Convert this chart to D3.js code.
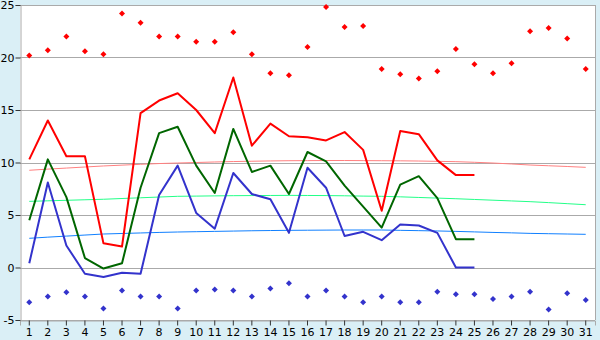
<!DOCTYPE html>
<html>
<head>
<meta charset="utf-8">
<script src="https://cdn.jsdelivr.net/npm/d3@7"></script>
<style>
  body { margin: 0; background: #daeff6; }
  text { font-family: "DejaVu Sans", Verdana, sans-serif; font-size: 11px; fill: #000; }
</style>
</head>
<body>
<div id="chart"></div>
<script>
// days of month
var days = d3.range(1, 32);
var yTicks = [-5, 0, 5, 10, 15, 20, 25];

// daily max / mean / min (days 1..25)
var maxTemp  = [10.3, 14.0, 10.6, 10.6, 2.3, 2.0, 14.7, 15.9, 16.6, 15.0, 12.8, 18.1, 11.6, 13.7, 12.5, 12.4, 12.1, 12.9, 11.2, 5.4, 13.0, 12.7, 10.2, 8.8, 8.8];
var meanTemp = [4.5, 10.3, 6.7, 0.9, -0.1, 0.4, 7.6, 12.8, 13.4, 9.7, 7.1, 13.2, 9.1, 9.7, 7.0, 11.0, 10.1, 7.8, 5.8, 3.8, 7.9, 8.7, 6.6, 2.7, 2.7];
var minTemp  = [0.4, 8.1, 2.1, -0.6, -0.9, -0.5, -0.6, 6.9, 9.7, 5.2, 3.7, 9.0, 7.0, 6.5, 3.3, 9.5, 7.6, 3.0, 3.4, 2.6, 4.1, 4.0, 3.3, 0.0, 0.0];

// record highs / lows (days 1..31)
var recHigh = [20.2, 20.7, 22.0, 20.6, 20.3, 24.2, 23.3, 22.0, 22.0, 21.5, 21.5, 22.4, 20.3, 18.5, 18.3, 21.0, 24.8, 22.9, 23.0, 18.9, 18.4, 18.0, 18.7, 20.8, 19.35, 18.5, 19.45, 22.5, 22.8, 21.8, 18.9];
var recLow  = [-3.3, -2.75, -2.35, -2.75, -3.9, -2.2, -2.75, -2.75, -3.9, -2.2, -2.1, -2.2, -2.75, -2.0, -1.5, -2.75, -2.2, -2.75, -3.3, -2.75, -3.3, -3.3, -2.3, -2.55, -2.55, -3.0, -2.75, -2.3, -4.0, -2.45, -3.1];

// long-term averages (days 1..31)
var avgMax  = [9.26, 9.37, 9.47, 9.57, 9.67, 9.75, 9.83, 9.90, 9.95, 10.0, 10.05, 10.09, 10.12, 10.15, 10.17, 10.18, 10.19, 10.19, 10.18, 10.17, 10.16, 10.14, 10.11, 10.08, 10.02, 9.95, 9.86, 9.76, 9.69, 9.62, 9.54];
var avgMean = [6.30, 6.35, 6.40, 6.45, 6.50, 6.57, 6.64, 6.71, 6.78, 6.80, 6.82, 6.84, 6.85, 6.86, 6.87, 6.86, 6.85, 6.83, 6.80, 6.78, 6.73, 6.67, 6.61, 6.55, 6.48, 6.41, 6.34, 6.27, 6.18, 6.08, 5.98];
var avgMin  = [2.78, 2.89, 2.99, 3.09, 3.19, 3.24, 3.29, 3.34, 3.38, 3.41, 3.44, 3.47, 3.50, 3.52, 3.54, 3.55, 3.56, 3.57, 3.57, 3.57, 3.54, 3.51, 3.48, 3.44, 3.39, 3.34, 3.30, 3.25, 3.22, 3.19, 3.16];

var width = 600, height = 340;
var margin = {top: 5, right: 5, bottom: 20, left: 20};

var svg = d3.select("#chart").append("svg")
  .attr("width", width)
  .attr("height", height);

var x = d3.scaleBand()
  .domain(days)
  .range([margin.left, width - margin.right])
  .padding(0);

var y = d3.scaleLinear()
  .domain([-5, 25])
  .range([height - margin.bottom, margin.top]);

function cx(d) { return x(d) + x.bandwidth() / 2; }

// plot background
svg.append("rect")
  .attr("x", margin.left)
  .attr("y", margin.top)
  .attr("width", width - margin.left - margin.right)
  .attr("height", height - margin.top - margin.bottom)
  .attr("fill", "#fff");

// gridlines
svg.append("g")
  .selectAll("line")
  .data(yTicks)
  .enter().append("line")
  .attr("x1", margin.left)
  .attr("x2", width - margin.right)
  .attr("y1", function(d){ return Math.round(y(d)) + 0.5; })
  .attr("y2", function(d){ return Math.round(y(d)) + 0.5; })
  .attr("stroke", "#aaa");

// right border
svg.append("line")
  .attr("x1", width - margin.right + 0.5)
  .attr("x2", width - margin.right + 0.5)
  .attr("y1", margin.top)
  .attr("y2", height - margin.bottom)
  .attr("stroke", "#aaa");

// axes
var yAxis = d3.axisLeft(y).tickValues(yTicks).tickSize(5).tickPadding(1)
  .tickFormat(function(d){ return String(d); });
var xAxis = d3.axisBottom(x).tickSize(5).tickPadding(3);

var gy = svg.append("g")
  .attr("transform", "translate(" + (margin.left + 0.5) + ",0)")
  .call(yAxis);
var gx = svg.append("g")
  .attr("transform", "translate(0," + (height - margin.bottom + 0.5) + ")")
  .call(xAxis);

[gx, gy].forEach(function(g){
  g.selectAll("path").attr("stroke", "#aaa");
  g.selectAll("line").attr("stroke", "#333");
  g.selectAll("text").style("font-family", "DejaVu Sans, Verdana, sans-serif").style("font-size", "11px");
});
gy.selectAll("text").attr("dy", "0.35em");
gx.selectAll("text").attr("dy", "0.71em");

// long-term average lines
function drawLine(vals, color, w) {
  var line = d3.line()
    .x(function(d, i){ return cx(days[i]); })
    .y(function(d){ return y(d); });
  svg.append("path")
    .datum(vals)
    .attr("fill", "none")
    .attr("stroke", color)
    .attr("stroke-width", w)
    .attr("stroke-linejoin", "round")
    .attr("d", line);
}

drawLine(avgMax, "#ff8080", 1);
drawLine(avgMean, "#22ff88", 1);
drawLine(avgMin, "#1080ff", 1);

// this month's lines
drawLine(maxTemp, "#ff0000", 2);
drawLine(meanTemp, "#006600", 2);
drawLine(minTemp, "#3333cc", 2);

// record markers (small diamonds)
var marker = "M0,-3L3,0L0,3L-3,0Z";

svg.append("g").selectAll("path")
  .data(recHigh)
  .enter().append("path")
  .attr("d", marker)
  .attr("transform", function(d, i){ return "translate(" + cx(days[i]) + "," + y(d) + ")"; })
  .attr("fill", "#ff0000");

svg.append("g").selectAll("path")
  .data(recLow)
  .enter().append("path")
  .attr("d", marker)
  .attr("transform", function(d, i){ return "translate(" + cx(days[i]) + "," + y(d) + ")"; })
  .attr("fill", "#3333cc");
</script>
</body>
</html>
